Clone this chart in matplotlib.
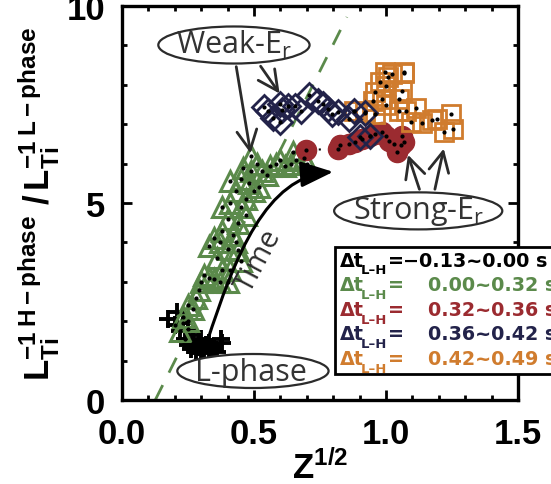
import matplotlib
matplotlib.use('Agg')
import matplotlib.pyplot as plt
from matplotlib.patches import Ellipse, Rectangle, FancyArrowPatch
from matplotlib.path import Path
from matplotlib.ticker import MultipleLocator

plt.rcParams['mathtext.fontset'] = 'custom'
plt.rcParams['mathtext.rm'] = 'Liberation Sans:bold'
plt.rcParams['mathtext.it'] = 'Liberation Sans:bold'
plt.rcParams['mathtext.bf'] = 'Liberation Sans:bold'
plt.rcParams['mathtext.sf'] = 'Open Sans'

# ---------------- data ----------------
black_x = [0.176, 0.209, 0.20, 0.22, 0.24, 0.25, 0.26, 0.27, 0.28, 0.29, 0.30, 0.31,
           0.32, 0.33, 0.34, 0.35, 0.36, 0.374, 0.38, 0.30, 0.27, 0.23, 0.25, 0.29, 0.33]
black_y = [2.06, 2.23, 1.90, 1.75, 1.55, 1.40, 1.30, 1.45, 1.25, 1.35, 1.20, 1.30,
           1.40, 1.25, 1.35, 1.30, 1.22, 1.55, 1.45, 1.55, 1.65, 1.95, 1.80, 1.50, 1.45]

green_x = [0.22, 0.23, 0.25, 0.25, 0.27, 0.28, 0.29, 0.30, 0.31, 0.33, 0.35, 0.37,
           0.40, 0.41, 0.38, 0.45, 0.40, 0.37, 0.35, 0.38, 0.42, 0.44, 0.40, 0.38,
           0.41, 0.45, 0.47, 0.43, 0.41, 0.45, 0.48, 0.50, 0.52, 0.46, 0.489, 0.51,
           0.53, 0.55, 0.56, 0.584, 0.618, 0.648, 0.66, 0.60, 0.64, 0.70, 0.69,
           0.43, 0.47, 0.49, 0.36, 0.33, 0.44]
green_y = [1.75, 2.10, 2.00, 2.40, 2.30, 2.60, 2.80, 3.00, 3.16, 3.10, 3.07, 3.00,
           2.99, 3.30, 3.30, 3.54, 3.83, 4.00, 4.10, 4.30, 4.20, 4.50, 4.60, 4.90,
           5.00, 4.90, 5.10, 5.30, 5.57, 5.60, 5.50, 5.30, 5.40, 5.90, 6.20, 6.00,
           5.80, 5.70, 5.95, 5.99, 5.95, 6.30, 6.10, 6.10, 6.00, 6.00, 6.15,
           4.00, 4.70, 5.80, 3.60, 3.90, 3.80]

red_x = [0.698, 0.819, 0.826, 0.86, 0.883, 0.91, 0.940, 0.96, 0.985, 1.00, 1.010,
         1.03, 1.055, 1.06, 1.04, 1.07]
red_y = [6.35, 6.37, 6.46, 6.50, 6.54, 6.62, 6.71, 6.75, 6.79, 6.70, 6.58,
         6.50, 6.46, 6.70, 6.30, 6.55]

navy_x = [0.539, 0.552, 0.571, 0.597, 0.600, 0.607, 0.629, 0.654, 0.679, 0.707,
          0.743, 0.762, 0.781, 0.794, 0.819, 0.858, 0.880, 0.921, 0.900, 0.940]
navy_y = [7.43, 7.34, 7.17, 7.05, 7.51, 7.37, 7.47, 7.47, 7.34, 7.74,
          7.60, 7.51, 7.39, 7.26, 7.30, 7.13, 7.33, 7.28, 6.67, 6.69]

orange_x = [0.877, 0.921, 0.960, 1.008, 1.067, 1.023, 1.061, 1.048, 1.074, 1.112,
            1.093, 1.137, 1.176, 1.195, 1.246, 1.252, 1.220, 0.960, 0.985, 1.000,
            1.048, 0.979, 1.000, 0.950, 0.998, 1.067]
orange_y = [7.34, 7.30, 7.26, 8.19, 8.30, 8.27, 7.85, 7.64, 7.34, 7.40,
            7.05, 7.04, 7.11, 7.13, 7.27, 6.88, 6.79, 7.81, 7.64, 7.50,
            7.34, 8.06, 7.97, 7.60, 8.32, 8.32]

trend_x = [0.126, 0.852]
trend_y = [0.0, 9.72]

legend_labels = ['\u22120.13~0.00 s', '0.00~0.32 s', '0.32~0.36 s', '0.36~0.42 s', '0.42~0.49 s']
c_black, c_green, c_red, c_navy, c_orange = '#000000', '#5b8a4b', '#9b2b30', '#23234a', '#d07c2e'
legend_colors = [c_black, c_green, c_red, c_navy, c_orange]

xticks = [0.0, 0.5, 1.0, 1.5]
xticklabels = ['0.0', '0.5', '1.0', '1.5']
yticks = [0, 5, 10]
yticklabels = ['0', '5', '10']

# ---------------- figure ----------------
W, H = 551, 485
fig = plt.figure(figsize=(W / 100, H / 100), dpi=100)
ax = fig.add_axes([122 / W, 1 - 401 / H, 396 / W, 394 / H])
ax.set_xlim(0, 1.5)
ax.set_ylim(0, 10)

ax.plot(trend_x, trend_y, color=c_green, lw=2.0, dashes=(6, 5), zorder=1)

mk_kw = dict(ls='none', mfc='none')
ax.plot(black_x, black_y, marker='+', color=c_black, ms=13, mew=2.8, ls='none', zorder=2)
ax.plot(green_x, green_y, marker='^', mec=c_green, ms=14.5, mew=2.2, zorder=3, **mk_kw)
ax.plot(red_x, red_y, color='black', lw=1.5, ls=(0, (1, 5)), zorder=3.5)
ax.plot(red_x, red_y, marker='o', ls='none', color=c_red, ms=14.5, mec=c_red, zorder=4)
ax.plot(orange_x, orange_y, marker='s', mec=c_orange, ms=13.5, mew=2.0, zorder=5, **mk_kw)
ax.plot(navy_x, navy_y, marker='D', mec=c_navy, ms=12, mew=2.0, zorder=6, **mk_kw)
for xs, ys in [(black_x, black_y), (green_x, green_y), (red_x, red_y),
               (orange_x, orange_y), (navy_x, navy_y)]:
    ax.plot(xs, ys, 'o', color='black', ms=2, ls='none', zorder=7)

# Time arrow
time_x = [0.321, 0.431, 0.546, 0.80]
time_y = [1.45, 3.71, 5.66, 5.79]
tpath = Path(list(zip(time_x, time_y)), [Path.MOVETO, Path.CURVE4, Path.CURVE4, Path.CURVE4])
arr = FancyArrowPatch(path=tpath, arrowstyle='-|>,head_length=1.0,head_width=0.4',
                      mutation_scale=20, lw=2.2, color='black', zorder=8)
ax.add_patch(arr)
ax.text(0.52, 3.55, 'Time', rotation=62, fontsize=21, family='Open Sans', color='#2e2e2e',
        ha='center', va='center', zorder=8)

# Annotation ellipses
ann_color = '#2b2b2b'
ell_kw = dict(fc='white', ec=ann_color, lw=1.6, zorder=9)
txt_kw = dict(family='Open Sans', fontsize=22, color='#333333', ha='center', va='center', zorder=10)
ax.add_patch(Ellipse((0.424, 9.01), 0.573, 0.94, **ell_kw))
ax.text(0.424, 9.03, 'Weak-E$_{\\mathsf{r}}$', **txt_kw)
ax.add_patch(Ellipse((1.122, 4.80), 0.637, 0.94, **ell_kw))
ax.text(1.122, 4.82, 'Strong-E$_{\\mathsf{r}}$', **txt_kw)
ax.add_patch(Ellipse((0.496, 0.736), 0.573, 0.863, **ell_kw))
ax.text(0.49, 0.72, 'L-phase', **txt_kw)

arrow_kw = dict(arrowstyle='->,head_length=0.8,head_width=0.4', color=ann_color, lw=2.0,
                mutation_scale=18)
for (x0, y0), (x1, y1) in [((0.431, 8.53), (0.489, 6.19)),
                           ((0.519, 8.53), (0.603, 7.72)),
                           ((1.130, 5.28), (1.080, 6.29)),
                           ((1.183, 5.28), (1.221, 6.45))]:
    ax.annotate('', xy=(x1, y1), xytext=(x0, y0),
                arrowprops=arrow_kw, zorder=9)

# Legend box
ax.add_patch(Rectangle((0.538, 0.066), 0.6, 0.322, transform=ax.transAxes, fc='white',
                       ec='black', lw=2.0, clip_on=False, zorder=11))
line_y = [0.355, 0.292, 0.229, 0.168, 0.105]
fs_leg = 13.8
for i, (lab, col) in enumerate(zip(legend_labels, legend_colors)):
    ax.text(0.551, line_y[i], '\u0394t', transform=ax.transAxes,
            fontsize=fs_leg, fontweight='bold', family='DejaVu Sans', color=col,
            va='center', ha='left', zorder=12, clip_on=False)
    ax.text(0.603, line_y[i] - 0.024, 'L\u2013H', transform=ax.transAxes,
            fontsize=9.5, fontweight='bold', family='DejaVu Sans', color=col,
            va='center', ha='left', zorder=12, clip_on=False)
    ax.text(0.672, line_y[i], '=', transform=ax.transAxes,
            fontsize=fs_leg, fontweight='bold', family='DejaVu Sans', color=col,
            va='center', ha='left', zorder=12, clip_on=False)
    xv = 0.710 if i == 0 else 0.772
    ax.text(xv, line_y[i], lab, transform=ax.transAxes,
            fontsize=fs_leg, fontweight='bold', family='DejaVu Sans', color=col,
            va='center', ha='left', zorder=12, clip_on=False)

# Axes styling
for s in ax.spines.values():
    s.set_linewidth(2.4)
ax.set_xticks(xticks)
ax.set_xticklabels(xticklabels)
ax.set_yticks(yticks)
ax.set_yticklabels(yticklabels)
ax.xaxis.set_minor_locator(MultipleLocator(0.1))
ax.yaxis.set_minor_locator(MultipleLocator(1))
ax.tick_params(which='both', direction='in', top=True, right=True, width=2.0)
ax.tick_params(which='major', length=7)
ax.tick_params(axis='x', which='major', pad=12)
ax.tick_params(axis='y', which='major', pad=12)
ax.tick_params(which='minor', length=3.5)
for lbl in ax.get_xticklabels() + ax.get_yticklabels():
    lbl.set_family('Liberation Sans')
    lbl.set_fontweight('bold')
    lbl.set_fontsize(25)

ax.set_xlabel('Z$^{\\mathbf{1/2}}$', family='Liberation Sans', fontweight='bold',
              fontsize=25, labelpad=0)
ax.set_ylabel('$\\mathbf{{L^{\u22121}_{Ti}}^{\\,H\u2212phase}\\,\\,/\\,{L^{\u22121}_{Ti}}^{\\,L\u2212phase}}$',
              fontsize=25, labelpad=4)

fig.savefig('out.png', dpi=100)
